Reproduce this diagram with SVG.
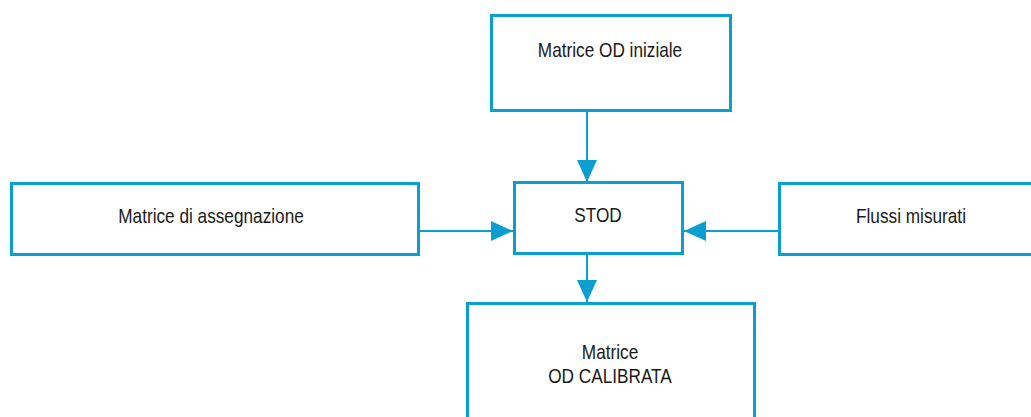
<svg xmlns="http://www.w3.org/2000/svg" width="1031" height="417" viewBox="0 0 1031 417">
<style>
.box{fill:#ffffff;stroke:#0a9fd0;stroke-width:3}
.lbl{font-family:"Liberation Sans",Arial,sans-serif;font-size:21px;fill:#1a1a1a;text-anchor:middle}
.con{stroke:#0a9fd0;stroke-width:2;fill:none}
</style>
<defs>
<marker id="arr" markerUnits="userSpaceOnUse" markerWidth="22" markerHeight="20" refX="22" refY="10" orient="auto" viewBox="0 0 22 20">
<path d="M0,0 L22,10 L0,20 z" fill="#0a9fd0"/>
</marker>
</defs>
<rect width="1031" height="417" fill="#ffffff"/>
<g id="connectors">
<line class="con" x1="587" y1="110" x2="587" y2="182" marker-end="url(#arr)"/>
<line class="con" x1="419" y1="231" x2="513" y2="231" marker-end="url(#arr)"/>
<line class="con" x1="779" y1="231" x2="684" y2="231" marker-end="url(#arr)"/>
<line class="con" x1="587" y1="254" x2="587" y2="302" marker-end="url(#arr)"/>
</g>
<g id="node-od-iniziale">
<rect class="box" x="491.5" y="15.5" width="239" height="95"/>
<text class="lbl" transform="translate(610 57) scale(0.82 1)">Matrice OD iniziale</text>
</g>
<g id="node-assegnazione">
<rect class="box" x="11.5" y="183.5" width="407" height="71"/>
<text class="lbl" transform="translate(211 223) scale(0.82 1)">Matrice di assegnazione</text>
</g>
<g id="node-stod">
<rect class="box" x="514.5" y="182.5" width="168" height="71"/>
<text class="lbl" transform="translate(598 222) scale(0.82 1)">STOD</text>
</g>
<g id="node-flussi">
<rect class="box" x="779.5" y="183.5" width="265" height="71"/>
<text class="lbl" transform="translate(911 223) scale(0.82 1)">Flussi misurati</text>
</g>
<g id="node-calibrata">
<rect class="box" x="467.5" y="303.5" width="287" height="130"/>
<text class="lbl" transform="translate(610 359) scale(0.82 1)">Matrice</text>
<text class="lbl" transform="translate(610 383) scale(0.82 1)">OD CALIBRATA</text>
</g>
</svg>
